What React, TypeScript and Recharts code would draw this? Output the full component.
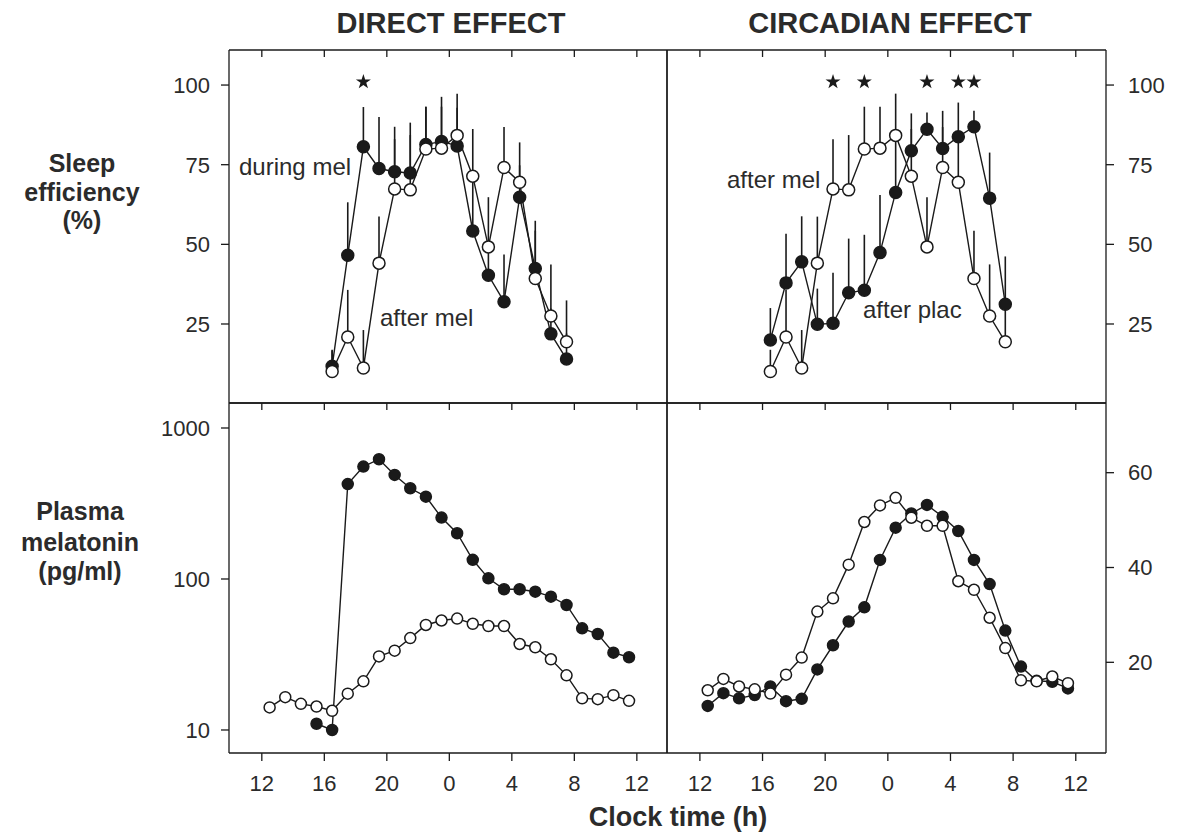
import { ComposedChart, Line, XAxis, YAxis, ErrorBar, Scatter, ZAxis } from 'recharts';

const FONT = '"Liberation Sans", Arial, Helvetica, sans-serif';
const INK = '#1a1a1a';
const TEXT = '#2b2b2b';

// clock time in hours, continuing past midnight (24 = 0 h, 36 = 12 h next day)
const hourTicks = [12, 16, 20, 24, 28, 32, 36];
const sleepTicks = [25, 50, 75, 100];
const melLogTicks = [10, 100, 1000];
const melLinTicks = [20, 40, 60];

const sleepHours = [16.5, 17.5, 18.5, 19.5, 20.5, 21.5, 22.5, 23.5, 24.5, 25.5, 26.5, 27.5, 28.5, 29.5, 30.5, 31.5];
const sleepDuringMel = [11.7, 46.6, 80.6, 73.8, 72.8, 72.4, 81.3, 82.3, 80.9, 54.2, 40.3, 32.0, 64.8, 42.4, 21.9, 14.0];
const sleepDuringMelSem = [5, 16.6, 12.5, 16.2, 14.1, 15.8, 11.9, 14, 12, 17, 10, 14.8, 10, 15, 8, 8];
const sleepAfterMel = [10.1, 20.9, 11.2, 44.1, 67.4, 67.1, 79.9, 80.2, 84.2, 71.4, 49.2, 74.1, 69.5, 39.3, 27.5, 19.4];
const sleepAfterMelSem = [6.8, 14.8, 11.9, 14.6, 15.6, 17.2, 13.3, 13, 13.1, 14.8, 15.6, 12.7, 12.5, 15, 16.2, 13];
const sleepAfterPlac = [20, 37.9, 44.5, 24.9, 25.2, 34.8, 35.6, 47.4, 66.3, 79.4, 86.1, 80.1, 83.8, 86.9, 64.5, 31.2];
const sleepAfterPlacSem = [10, 15.4, 14.3, 11.2, 15.9, 17, 17.4, 18.1, 18, 11.7, 5.3, 11.8, 10.7, 5, 14.3, 15];

const starsDirect = [18.5];
const starsCircadian = [20.5, 22.5, 26.5, 28.5, 29.5];
const starLevel = 101;

const melHours = [12.5, 13.5, 14.5, 15.5, 16.5, 17.5, 18.5, 19.5, 20.5, 21.5, 22.5, 23.5, 24.5, 25.5, 26.5, 27.5, 28.5, 29.5, 30.5, 31.5, 32.5, 33.5, 34.5, 35.5];
const melDuringHours = [15.5, 16.5, 17.5, 18.5, 19.5, 20.5, 21.5, 22.5, 23.5, 24.5, 25.5, 26.5, 27.5, 28.5, 29.5, 30.5, 31.5, 32.5, 33.5, 34.5, 35.5];
const melDuringMel = [11.0, 10.0, 425, 555, 621, 489, 399, 351, 255, 201, 134, 101, 85.5, 85.5, 82.4, 76.4, 67.3, 47.1, 43.2, 32.5, 30.3];
const melAfterMel = [14.1, 16.5, 14.9, 14.3, 13.4, 17.4, 21.0, 30.7, 33.5, 40.6, 49.6, 53.1, 54.7, 50.5, 48.8, 48.8, 37.1, 35.3, 29.4, 23.0, 16.2, 16.0, 17.0, 15.6];
const melAfterPlac = [10.8, 13.5, 12.4, 13.1, 14.9, 11.8, 12.3, 18.5, 23.6, 28.6, 31.6, 41.6, 48.4, 51.4, 53.2, 50.7, 47.7, 41.6, 36.5, 26.7, 19.1, 16.1, 15.9, 14.5];

const HOUR_DOMAIN = [9.9, 37.93];
const SLEEP_DOMAIN = [0.2, 111];
const LOG_DOMAIN = [7.04, 1464];
const LIN_DOMAIN = [0.87, 74.7];

const INNER_TICK = 7;

const rows = (hours: number[], vals: number[], sems?: number[]) =>
  hours.map((h, i) => ({ h, v: vals[i], e: sems ? [0, sems[i]] : undefined }));

const tickFont = { fontSize: 22, fill: TEXT, fontFamily: FONT };
const hiddenTick = { fontSize: 1, fill: 'none' };
const blank = () => '';

function xAxes(labels: boolean) {
  return [
    <XAxis key="xt" xAxisId="t" orientation="top" type="number" dataKey="h" domain={HOUR_DOMAIN} ticks={hourTicks}
      allowDataOverflow height={1} tickLine={false} tick={hiddenTick} tickFormatter={blank}
      stroke={INK} strokeWidth={1.3} />,
    labels ? (
      <XAxis key="xb" xAxisId="b" orientation="bottom" type="number" dataKey="h" domain={HOUR_DOMAIN} ticks={hourTicks}
        allowDataOverflow height={50} tickSize={8} tickMargin={14} tick={tickFont} stroke={INK} strokeWidth={1.3}
        interval={0} tickFormatter={(v: number) => String(v % 24)} />
    ) : (
      <XAxis key="xb" xAxisId="b" orientation="bottom" type="number" dataKey="h" domain={HOUR_DOMAIN} ticks={hourTicks}
        allowDataOverflow mirror height={1} tickLine={false} tick={hiddenTick} tickFormatter={blank}
        stroke={INK} strokeWidth={1.3} />
    ),
  ];
}

// inward tick marks along the top edge of a panel, placed through the chart's own scales
const innerTickShape = (p: any) => (
  <line x1={p.cx} x2={p.cx} y1={p.cy} y2={p.cy + INNER_TICK} stroke={INK} strokeWidth={1.3} />
);

function topTicks(domain: number[]) {
  return (
    <Scatter xAxisId="b" yAxisId="v" data={hourTicks.map((h) => ({ h, v: domain[1] }))} dataKey="v"
      shape={innerTickShape} isAnimationActive={false} legendType="none" />
  );
}

function yAxes(side: 'left' | 'right', domain: number[], ticks: number[], log?: boolean) {
  const scale = log ? 'log' : 'auto';
  const labelled = (
    <YAxis key="yl" yAxisId="v" orientation={side} type="number" scale={scale} domain={domain} ticks={ticks}
      allowDataOverflow width={70} tickSize={8} tickMargin={side === 'left' ? 11 : 14} tick={tickFont}
      interval={0} stroke={INK} strokeWidth={1.3} />
  );
  const plain = (
    <YAxis key="yp" yAxisId="p" orientation={side === 'left' ? 'right' : 'left'} type="number" scale={scale}
      domain={domain} ticks={ticks} allowDataOverflow mirror width={1} tickLine={false} tick={hiddenTick}
      tickFormatter={blank} stroke={INK} strokeWidth={1.3} />
  );
  return [labelled, plain];
}

function series(data: any[], filled: boolean, r: number, withErr: boolean) {
  return (
    <Line xAxisId={filled ? 'b' : 't'} yAxisId="v" data={data} dataKey="v" stroke={INK} strokeWidth={1.4}
      isAnimationActive={false} activeDot={false}
      dot={{ r, fill: filled ? INK : '#fff', stroke: INK, strokeWidth: 1.5 }}>
      {withErr && <ErrorBar dataKey="e" width={0} stroke={INK} strokeWidth={1.6} direction="y" />}
    </Line>
  );
}

function stars(hours: number[]) {
  return (
    <Scatter xAxisId="b" yAxisId="v" data={hours.map((h) => ({ h, v: starLevel }))} dataKey="v" shape="star"
      fill={INK} isAnimationActive={false} />
  );
}

const chartStyle = { position: 'absolute' as const };

export default function App() {
  return (
    <div style={{ position: 'absolute', left: 0, top: 0, width: 1179, height: 834, background: '#fff', overflow: 'hidden' }}>
      {/* top left: direct effect, sleep */}
      <div style={{ ...chartStyle, left: 159, top: 48 }}>
        <ComposedChart width={510} height={357} margin={{ top: 1, right: 2, bottom: 2, left: 0 }}>
          {xAxes(false)}
          {yAxes('left', SLEEP_DOMAIN, sleepTicks)}
          <ZAxis type="number" range={[70, 70]} />
          {topTicks(SLEEP_DOMAIN)}
          {series(rows(sleepHours, sleepDuringMel, sleepDuringMelSem), true, 6, true)}
          {series(rows(sleepHours, sleepAfterMel, sleepAfterMelSem), false, 6, true)}
          {stars(starsDirect)}
        </ComposedChart>
      </div>
      {/* top right: circadian effect, sleep */}
      <div style={{ ...chartStyle, left: 665, top: 48 }}>
        <ComposedChart width={511} height={357} margin={{ top: 1, right: 0, bottom: 2, left: 2 }}>
          {xAxes(false)}
          {yAxes('right', SLEEP_DOMAIN, sleepTicks)}
          <ZAxis type="number" range={[70, 70]} />
          {topTicks(SLEEP_DOMAIN)}
          {series(rows(sleepHours, sleepAfterPlac, sleepAfterPlacSem), true, 6, true)}
          {series(rows(sleepHours, sleepAfterMel, sleepAfterMelSem), false, 6, true)}
          {stars(starsCircadian)}
        </ComposedChart>
      </div>
      {/* bottom left: direct effect, melatonin (log) */}
      <div style={{ ...chartStyle, left: 159, top: 401 }}>
        <ComposedChart width={510} height={402} margin={{ top: 1, right: 2, bottom: 0, left: 0 }}>
          {xAxes(true)}
          {yAxes('left', LOG_DOMAIN, melLogTicks, true)}
          {topTicks(LOG_DOMAIN)}
          {series(rows(melDuringHours, melDuringMel), true, 5.5, false)}
          {series(rows(melHours, melAfterMel), false, 5.5, false)}
        </ComposedChart>
      </div>
      {/* bottom right: circadian effect, melatonin */}
      <div style={{ ...chartStyle, left: 665, top: 401 }}>
        <ComposedChart width={511} height={402} margin={{ top: 1, right: 0, bottom: 0, left: 2 }}>
          {xAxes(true)}
          {yAxes('right', LIN_DOMAIN, melLinTicks)}
          {topTicks(LIN_DOMAIN)}
          {series(rows(melHours, melAfterPlac), true, 5.5, false)}
          {series(rows(melHours, melAfterMel), false, 5.5, false)}
        </ComposedChart>
      </div>

      <svg width={1179} height={834} style={{ position: 'absolute', left: 0, top: 0, pointerEvents: 'none' }}
        fontFamily={FONT}>
        <g fontWeight="bold" fill={TEXT} textAnchor="middle">
          <text x={451} y={33} fontSize={29}>DIRECT EFFECT</text>
          <text x={890} y={33} fontSize={29}>CIRCADIAN EFFECT</text>
          <text x={82} y={172} fontSize={25}>Sleep</text>
          <text x={82} y={201} fontSize={25}>efficiency</text>
          <text x={82} y={229} fontSize={25}>(%)</text>
          <text x={80} y={520} fontSize={25}>Plasma</text>
          <text x={80} y={551} fontSize={25}>melatonin</text>
          <text x={80} y={580} fontSize={25}>(pg/ml)</text>
          <text x={678} y={826} fontSize={27}>Clock time (h)</text>
        </g>
        <g fill={TEXT} fontSize={24}>
          <text x={239} y={175}>during mel</text>
          <text x={380} y={326}>after mel</text>
          <text x={727} y={188}>after mel</text>
          <text x={863} y={318}>after plac</text>
        </g>
      </svg>
    </div>
  );
}
